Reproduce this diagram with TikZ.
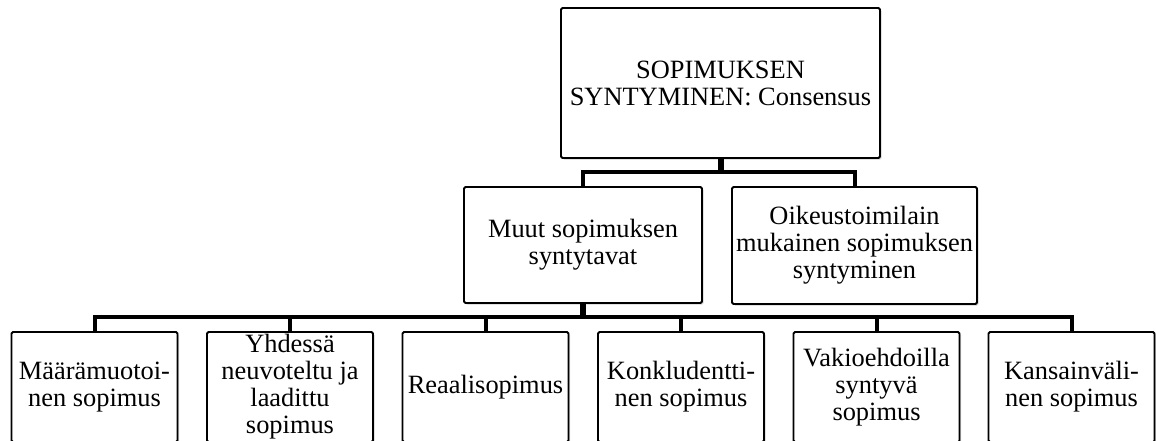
\documentclass[tikz,border=0pt]{standalone}
\usepackage{fontspec}
\setmainfont{Liberation Serif}
\usetikzlibrary{shadows}
\begin{document}
\begin{tikzpicture}[x=1pt,y=-1pt,
  box/.style={draw=black, line width=1.8pt, fill=white, rounded corners=1.5pt,
    align=center, inner sep=0pt,
    font=\fontsize{26.4pt}{27pt}\selectfont,
    drop shadow={shadow xshift=1.5pt, shadow yshift=-1.5pt, opacity=0.35, fill=gray}},
  conn/.style={draw=black, line width=4pt, line join=miter},
  stem/.style={draw=black, line width=6pt}]
\useasboundingbox (0,0) rectangle (1156,440);
\clip (0,0) rectangle (1156,440);
% top
\node[box, minimum width=319pt, minimum height=150pt] (top) at (720.5,83)
  {SOPIMUKSEN\\SYNTYMINEN: Consensus};
% middle
\node[box, minimum width=238pt, minimum height=116pt] (muut) at (583,245)
  {Muut sopimuksen\\syntytavat};
\node[box, minimum width=245pt, minimum height=117pt] (oik) at (854.5,245.5)
  {Oikeustoimilain\\mukainen sopimuksen\\syntyminen};
% bottom
\tikzset{bot/.style={box, minimum width=166pt, minimum height=110pt}}
\node[bot] (b1) at (94.5,387) {Määrämuotoi-\\nen sopimus};
\node[bot] (b2) at (290,387) {Yhdessä\\neuvoteltu ja\\laadittu\\sopimus};
\node[bot] (b3) at (485.5,387) {Reaalisopimus};
\node[bot] (b4) at (681,387) {Konkludentti-\\nen sopimus};
\node[bot] (b5) at (876.5,387) {Vakioehdoilla\\syntyvä\\sopimus};
\node[bot] (b6) at (1071.5,387) {Kansainväli-\\nen sopimus};
% connectors
\coordinate (bus1) at (720.5,172);
\coordinate (bus2) at (583,317);
\draw[stem] (top.south) -- (bus1);
\draw[conn] (muut.north) |- (bus1) -| (oik.north);
\draw[stem] (muut.south) -- (bus2);
\draw[conn] (b1.north) |- (bus2) -| (b6.north);
\foreach \b in {b2,b3,b4,b5}
  \draw[conn] (\b.north) -- (\b.north |- bus2);
\end{tikzpicture}
\end{document}
